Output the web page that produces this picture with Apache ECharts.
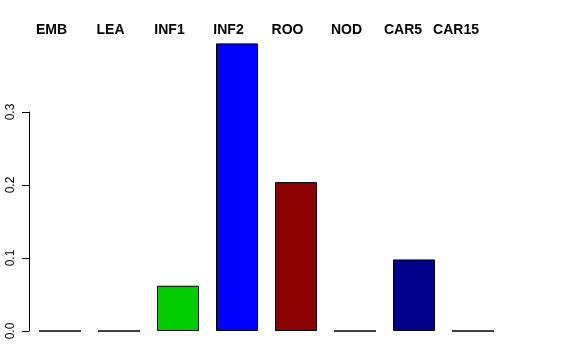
<!DOCTYPE html>
<html><head><meta charset="utf-8">
<script src="https://cdn.jsdelivr.net/npm/echarts@6/dist/echarts.min.js"></script>
<style>html,body{margin:0;padding:0;background:#fff}#c{width:576px;height:360px}</style>
</head><body><div id="c"></div>
<script>
var categories = ['EMB','LEA','INF1','INF2','ROO','NOD','CAR5','CAR15'];
var values = [0, 0, 0.062, 0.394, 0.204, 0, 0.098, 0];
var barColors = ['#000000','#000000','#00CD00','#0000FF','#8B0000','#000000','#00008B','#000000'];
var yTicks = [0, 0.1, 0.2, 0.3];
var yTickLabels = ['0.0','0.1','0.2','0.3'];

var shift = {'CAR5': 'b', 'CAR15': 'c'};
var font = 'Liberation Sans, Helvetica, Arial, sans-serif';
var chart = echarts.init(document.getElementById('c'), null, {renderer: 'canvas'});
chart.setOption({
  animation: false,
  backgroundColor: '#fff',
  grid: [
    {left: 30.5, top: 39, width: 472, height: 292},
    {left: 29, top: 112, width: 472, height: 219}
  ],
  xAxis: [
    {gridIndex: 0, type: 'category', data: categories, position: 'top',
     axisLine: {show: false}, axisTick: {show: false},
     axisLabel: {interval: 0, hideOverlap: false, margin: 2, fontFamily: font, fontWeight: 'bold', fontSize: 14, color: '#000',
       formatter: function (v) { return '{' + (shift[v] || 'a') + '|' + v + '}'; },
       rich: {
         a: {padding: [0, 17, 0, 0], fontFamily: font, fontWeight: 'bold', fontSize: 14, color: '#000'},
         b: {padding: [0, 22, 0, 0], fontFamily: font, fontWeight: 'bold', fontSize: 14, color: '#000'},
         c: {padding: [0, 34, 0, 0], fontFamily: font, fontWeight: 'bold', fontSize: 14, color: '#000'}
       }},
     splitLine: {show: false}},
    {gridIndex: 1, type: 'category', data: categories, show: false}
  ],
  yAxis: [
    {gridIndex: 0, type: 'value', min: 0, max: 0.4, show: false},
    {gridIndex: 1, type: 'value', min: 0, max: 0.3, interval: 0.1,
     axisLine: {show: true, lineStyle: {color: '#000', width: 1}},
     axisTick: {show: true, length: 7, lineStyle: {color: '#000'}},
     axisLabel: {rotate: 90, margin: 12, fontFamily: font, fontSize: 12, color: '#000',
       formatter: function (v) { var i = yTicks.indexOf(Math.round(v*10)/10); return i >= 0 ? yTickLabels[i] : ''; }},
     splitLine: {show: false}}
  ],
  series: [{
    type: 'bar', xAxisIndex: 0, yAxisIndex: 0,
    barWidth: 42,
    data: values.map(function (v, i) {
      return {value: v, itemStyle: {color: barColors[i], borderColor: '#000', borderWidth: 1}};
    })
  }]
});
</script></body></html>
